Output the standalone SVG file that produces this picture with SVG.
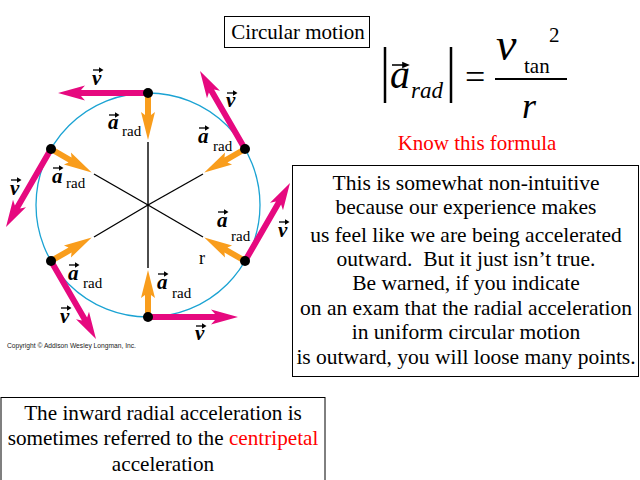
<svg xmlns="http://www.w3.org/2000/svg" xmlns:xlink="http://www.w3.org/1999/xlink" width="640" height="480" viewBox="0 0 640 480">
<style>
.t{font-family:"Liberation Serif","Times New Roman",serif;fill:#000}
.vec{font-family:"Liberation Serif","Times New Roman",serif;font-weight:bold;font-style:italic;font-size:21px}
.sub{font-family:"Liberation Serif","Times New Roman",serif;font-size:15px}
.box{fill:#fff;stroke:#000;stroke-width:1}
.spk{stroke:#000;stroke-width:1.4}
.mag{fill:#E6097F}
.org{fill:#F99D1C}
.red{fill:#FF0000}
</style>
<defs>
<path id="magArrow" d="M0,-3 L67,-3 L63,-7.5 L90,0 L63,7.5 L67,3 L0,3 Z"/>
<path id="orgArrow" d="M0,-3 L22,-3 L19,-7 L47,0 L19,7 L22,3 L0,3 Z"/>
<g id="va"><line x1="0" y1="0" x2="8" y2="0" stroke="#000" stroke-width="1.3"/><path d="M6,-2.8 L10.5,0 L6,2.8 Z" fill="#000"/></g>
</defs>
<rect width="640" height="480" fill="#fff"/>

<g id="circle-figure">
<circle cx="148" cy="205" r="112" fill="none" stroke="#1BA3D3" stroke-width="1.3"/>
</g>

<g id="connectors">
<line class="spk" x1="148" y1="205" x2="148" y2="142" stroke-width="2"/>
<line class="spk" x1="148" y1="205" x2="148" y2="268" stroke-width="2"/>
<line class="spk" x1="148" y1="205" x2="94" y2="174"/>
<line class="spk" x1="148" y1="205" x2="203" y2="174"/>
<line class="spk" x1="148" y1="205" x2="94" y2="237"/>
<line class="spk" x1="148" y1="205" x2="203" y2="237"/>
<use href="#orgArrow" class="org" transform="translate(148,93) rotate(90)"/>
<use href="#orgArrow" class="org" transform="translate(245,149) rotate(150)"/>
<use href="#orgArrow" class="org" transform="translate(51,149) rotate(30)"/>
<use href="#orgArrow" class="org" transform="translate(51,261) rotate(-30)"/>
<use href="#orgArrow" class="org" transform="translate(148,317) rotate(-90)"/>
<use href="#orgArrow" class="org" transform="translate(245,261) rotate(-150)"/>
<use href="#magArrow" class="mag" transform="translate(148,93) rotate(180)"/>
<use href="#magArrow" class="mag" transform="translate(245,149) rotate(-120)"/>
<use href="#magArrow" class="mag" transform="translate(51,149) rotate(120)"/>
<use href="#magArrow" class="mag" transform="translate(51,261) rotate(60)"/>
<use href="#magArrow" class="mag" transform="translate(148,317) rotate(0)"/>
<use href="#magArrow" class="mag" transform="translate(245,261) rotate(-60)"/>
</g>

<g id="points">
<circle cx="148" cy="93" r="5"/>
<circle cx="245" cy="149" r="5"/>
<circle cx="51" cy="149" r="5"/>
<circle cx="51" cy="261" r="5"/>
<circle cx="148" cy="317" r="5"/>
<circle cx="245" cy="261" r="5"/>
</g>

<g id="labels">
<text class="vec" x="92" y="85">v</text><use href="#va" x="93" y="70"/>
<text class="vec" x="108" y="129">a</text><use href="#va" x="109" y="115"/><text class="sub" x="122" y="136">rad</text>
<text class="vec" x="226" y="107">v</text><use href="#va" x="227" y="93"/>
<text class="vec" x="198" y="143">a</text><use href="#va" x="199" y="128"/><text class="sub" x="213" y="151">rad</text>
<text class="vec" x="10" y="195">v</text><use href="#va" x="11" y="180"/>
<text class="vec" x="52" y="183">a</text><use href="#va" x="53" y="168"/><text class="sub" x="66" y="188">rad</text>
<text class="vec" x="217" y="227">a</text><use href="#va" x="218" y="212"/><text class="sub" x="231" y="241">rad</text>
<text class="vec" x="278" y="237">v</text><use href="#va" x="279" y="222"/>
<text class="t" x="199" y="264" font-size="18">r</text>
<text class="vec" x="68" y="280">a</text><use href="#va" x="69" y="265"/><text class="sub" x="83" y="288">rad</text>
<text class="vec" x="60" y="323">v</text><use href="#va" x="61" y="308"/>
<text class="vec" x="157" y="289">a</text><use href="#va" x="158" y="274"/><text class="sub" x="172" y="298">rad</text>
<text class="vec" x="195" y="340">v</text><use href="#va" x="196" y="326"/>
<text x="7" y="348" font-family="Liberation Sans, Arial, sans-serif" font-size="6.7" fill="#222">Copyright © Addison Wesley Longman, Inc.</text>
</g>

<g id="title">
<rect class="box" x="224.5" y="16.5" width="145" height="31"/>
<text class="t" x="298" y="39" font-size="21" text-anchor="middle">Circular motion</text>
</g>

<g id="formula">
<line x1="385" y1="47" x2="385" y2="103" stroke="#000" stroke-width="2.5"/>
<text class="t" x="390" y="88" font-size="40" font-style="italic">a</text>
<use href="#va" transform="translate(392,65) scale(1.7,1.2)"/>
<text class="t" x="411" y="98" font-size="23" font-style="italic">rad</text>
<line x1="451" y1="47" x2="451" y2="103" stroke="#000" stroke-width="2.5"/>
<text class="t" x="465" y="89" font-size="36">=</text>
<text class="t" x="496" y="60" font-size="46" font-style="italic">v</text>
<text class="t" x="524" y="73" font-size="21">tan</text>
<text class="t" x="549" y="42" font-size="21">2</text>
<line x1="495" y1="79" x2="567" y2="79" stroke="#000" stroke-width="2"/>
<text class="t" x="522" y="118" font-size="36" font-style="italic">r</text>
<text class="t red" x="477" y="150" font-size="21" text-anchor="middle">Know this formula</text>
</g>

<g id="warning">
<rect class="box" x="292.5" y="165.5" width="346" height="211"/>
<g class="t" font-size="21.5" text-anchor="middle">
<text x="466" y="190">This is somewhat non-intuitive</text>
<text x="466" y="214">because our experience makes</text>
<text x="466" y="242">us feel like we are being accelerated</text>
<text x="466" y="266">outward.&#160; But it just isn’t true.</text>
<text x="466" y="290">Be warned, if you indicate</text>
<text x="466" y="315">on an exam that the radial acceleration</text>
<text x="466" y="339">in uniform circular motion</text>
<text x="466" y="364">is outward, you will loose many points.</text>
</g>
</g>

<g id="centripetal">
<rect class="box" x="1" y="397.5" width="324" height="90"/>
<g class="t" font-size="21.2" text-anchor="middle">
<text x="163" y="420">The inward radial acceleration is</text>
<text x="163" y="445">sometimes referred to the <tspan class="red">centripetal</tspan></text>
<text x="163" y="471">acceleration</text>
</g>
</g>
</svg>
